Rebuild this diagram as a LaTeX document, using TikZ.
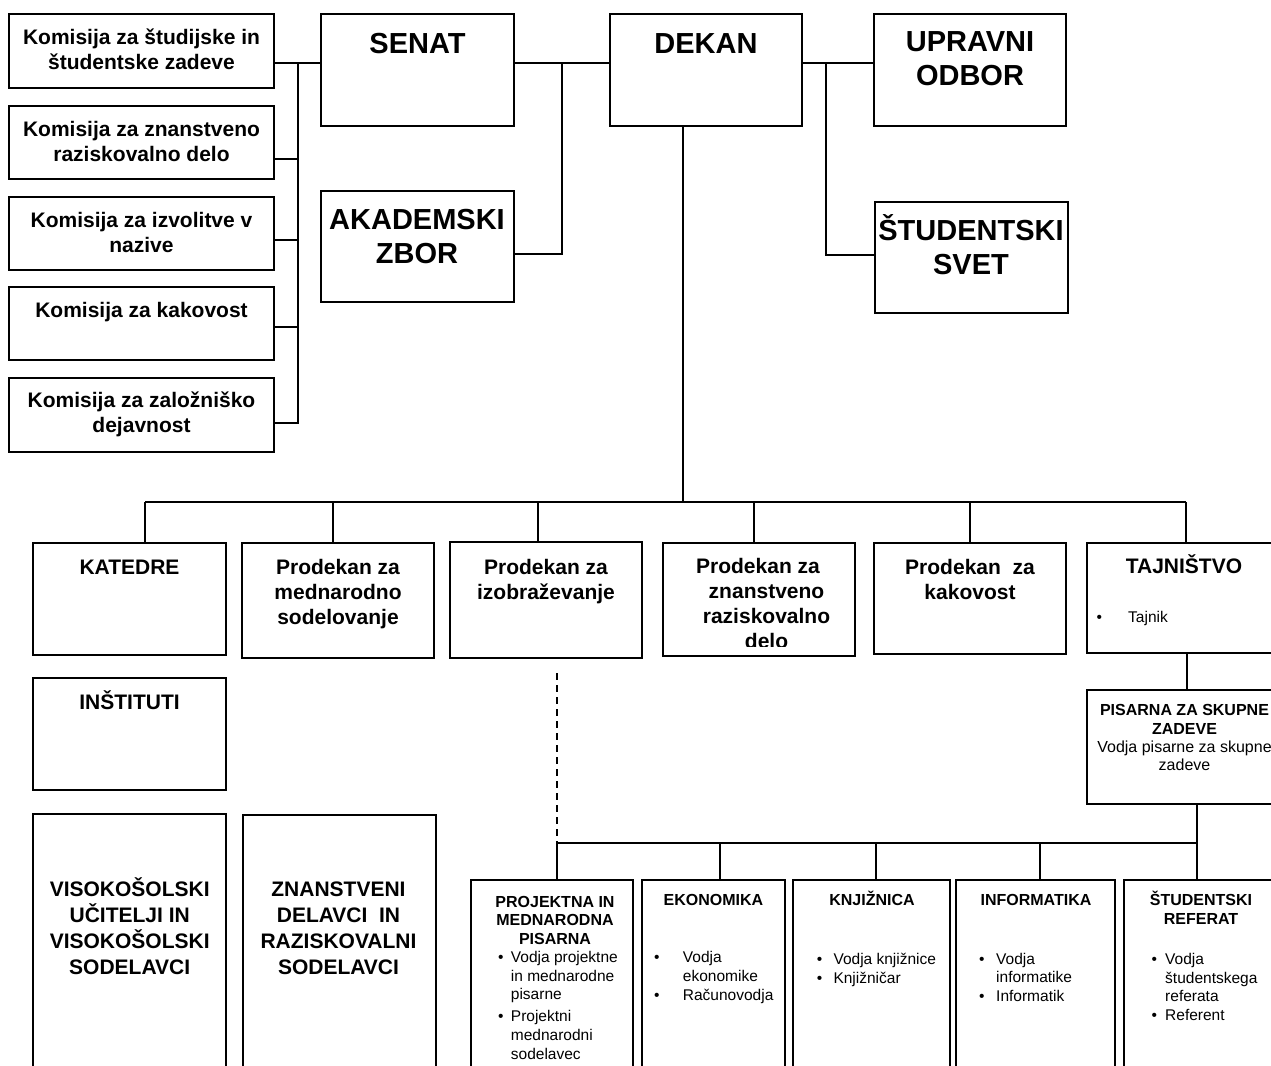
\documentclass[tikz,border=0pt]{standalone}
\usepackage{fontspec}
\setmainfont{Liberation Sans}
\usetikzlibrary{fit}
\newcommand{\mlines}[1]{\begin{tabular}[t]{@{}c@{}}#1\end{tabular}}
\newcommand{\blist}[2]{\begin{tabular}[t]{@{}l@{\hspace{#1}}l@{}}#2\end{tabular}}
\begin{document}
\begin{tikzpicture}[x=1pt,y=-1pt,
  box/.style={draw, line width=1.8pt, inner sep=0pt, rectangle},
  conn/.style={line width=1.6pt},
  dconn/.style={line width=1.6pt, dash pattern=on 7pt off 5pt},
  txt/.style={inner sep=0pt, anchor=base},
  fbig/.style={font=\fontsize{29}{34}\selectfont\bfseries},
  fmid/.style={font=\fontsize{21}{25}\selectfont\bfseries},
  fvis/.style={font=\fontsize{21}{25.8}\selectfont\bfseries},
  ftit/.style={font=\fontsize{16}{18.5}\selectfont\bfseries},
  fbul/.style={font=\fontsize{15.5}{18.8}\selectfont},
  fpis/.style={font=\fontsize{16}{18.4}\selectfont}]
\useasboundingbox (0,0) rectangle (1271,1065);
\clip (0,0) rectangle (1271,1065);
\fill[white] (0,0) rectangle (1271,1065);

% ---------- boxes ----------
\node[box, fit={(9,14) (274,88)}] (k1) {};
\node[box, fit={(9,106) (274,179)}] (k2) {};
\node[box, fit={(9,197) (274,270)}] (k3) {};
\node[box, fit={(9,287) (274,360)}] (k4) {};
\node[box, fit={(9,378) (274,452)}] (k5) {};
\node[box, fit={(321,14) (514,126)}] (senat) {};
\node[box, fit={(321,191) (514,302)}] (akad) {};
\node[box, fit={(610,14) (802,126)}] (dekan) {};
\node[box, fit={(874,14) (1066,126)}] (upravni) {};
\node[box, fit={(875,202) (1068,313)}] (svet) {};
\node[box, fit={(33,543) (226,655)}] (katedre) {};
\node[box, fit={(242,543) (434,658)}] (pmed) {};
\node[box, fit={(450,542) (642,658)}] (pizo) {};
\node[box, fit={(663,543) (855,656)}] (pzn) {};
\node[box, fit={(874,543) (1066,654)}] (pkak) {};
\node[box, fit={(1087,543) (1281,653)}] (tajn) {};
\node[box, fit={(33,678) (226,790)}] (inst) {};
\node[box, fit={(33,814) (226,1090)}] (visok) {};
\node[box, fit={(243,815) (436,1090)}] (znan) {};
\node[box, fit={(1087,690) (1283,804)}] (pisarna) {};
\node[box, fit={(471,880) (633,1090)}] (proj) {};
\node[box, fit={(642,880) (785,1090)}] (ekon) {};
\node[box, fit={(793,880) (950,1090)}] (knj) {};
\node[box, fit={(956,880) (1115,1090)}] (inf) {};
\node[box, fit={(1124,880) (1279,1090)}] (stref) {};

% ---------- texts ----------
\node[txt, fmid] (k1t) at (141.5,45) {\mlines{Komisija za študijske in\\študentske zadeve}};
\node[txt, fmid] (k2t) at (141.5,136.7) {\mlines{Komisija za znanstveno\\raziskovalno delo}};
\node[txt, fmid] (k3t) at (141.5,227.7) {\mlines{Komisija za izvolitve v\\nazive}};
\node[txt, fmid] (k4t) at (141.5,317.3) {\mlines{Komisija za kakovost}};
\node[txt, fmid] (k5t) at (141.5,407) {\mlines{Komisija za založniško\\dejavnost}};

\node[txt, fbig] (senatt) at (417.5,54) {SENAT};
\node[txt, fbig] (akadt) at (417,229) {\mlines{AKADEMSKI\\ZBOR}};
\node[txt, fbig] (dekant) at (706,54) {DEKAN};
\node[txt, fbig] (upravnit) at (970,52) {\mlines{UPRAVNI\\ODBOR}};
\node[txt, fbig] (svett) at (971,240) {\mlines{ŠTUDENTSKI\\SVET}};

\node[txt, fmid] (katedret) at (129.5,574) {KATEDRE};
\node[txt, fmid] (pmedt) at (338,574) {\mlines{Prodekan za\\mednarodno\\sodelovanje}};
\node[txt, fmid] (pizot) at (546,574) {\mlines{Prodekan za\\izobraževanje}};
\begin{scope}
\clip (663,543) rectangle (855,646);
\node[txt, fmid] (pznt) at (758,573) {\mlines{Prodekan za\\\hspace{17pt}znanstveno\\\hspace{17pt}raziskovalno\\\hspace{17pt}delo}};
\end{scope}
\node[txt, fmid] (pkakt) at (970,574) {\mlines{Prodekan\ \ za\\kakovost}};
\node[txt, fmid] (tajnt) at (1184,573) {TAJNIŠTVO};
\node[txt, fbul, anchor=base west] (tajnb) at (1096.3,622) {\blist{26.3pt}{\textbullet & Tajnik}};

\node[txt, fmid] (instt) at (129.5,709.3) {INŠTITUTI};
\node[txt, fvis] (visokt) at (129.7,896.7) {\mlines{VISOKOŠOLSKI\\\smash{UČITELJI IN}\\\smash{VISOKOŠOLSKI}\\SODELAVCI}};
\node[txt, fvis] (znant) at (338.5,896.7) {\mlines{ZNANSTVENI\\DELAVCI\ \ IN\\RAZISKOVALNI\\SODELAVCI}};

\node[txt, fpis] (pisarnat) at (1184.5,715.7) {\mlines{\textbf{PISARNA ZA SKUPNE}\\\textbf{ZADEVE}\\Vodja pisarne za skupne\\zadeve}};

\node[txt, ftit] (projt) at (555,907.3) {\mlines{PROJEKTNA IN\\MEDNARODNA\\PISARNA}};
\node[txt, fbul, anchor=base west] (projb) at (498,962.3) {\blist{7.3pt}{\textbullet & Vodja projektne\\ & in mednarodne\\ & pisarne\\[3pt] \textbullet & Projektni\\ & mednarodni\\ & sodelavec}};
\node[txt, ftit] (ekont) at (713.5,905.7) {EKONOMIKA};
\node[txt, fbul, anchor=base west] (ekonb) at (654,962.7) {\blist{23.3pt}{\textbullet & Vodja\\ & ekonomike\\ \textbullet & Računovodja}};
\node[txt, ftit] (knjt) at (872,905.7) {KNJIŽNICA};
\node[txt, fbul, anchor=base west] (knjb) at (816.6,964.3) {\blist{11.3pt}{\textbullet & Vodja knjižnice\\ \textbullet & Knjižničar}};
\node[txt, ftit] (inft) at (1036,905.7) {INFORMATIKA};
\node[txt, fbul, anchor=base west] (infb) at (979,964) {\blist{11.6pt}{\textbullet & Vodja\\ & informatike\\ \textbullet & Informatik}};
\node[txt, ftit] (streft) at (1201,905.7) {\mlines{ŠTUDENTSKI\\REFERAT}};
\node[txt, fbul, anchor=base west] (strefb) at (1151.3,964.3) {\blist{8.3pt}{\textbullet & Vodja\\ & študentskega\\ & referata\\ \textbullet & Referent}};

% ---------- connectors ----------
\coordinate (j1) at (298,63);
\coordinate (j2) at (298,159);
\coordinate (j3) at (298,240);
\coordinate (j4) at (298,327);
\coordinate (j5) at (298,423);
\draw[conn] (k1.east |- j1) -- (senat.west |- j1);
\draw[conn] (j1) -- (j5) -- (k5.east |- j5);
\draw[conn] (k2.east |- j2) -- (j2);
\draw[conn] (k3.east |- j3) -- (j3);
\draw[conn] (k4.east |- j4) -- (j4);

\coordinate (ja) at (562,63);
\coordinate (ja2) at (562,254);
\draw[conn] (senat.east |- j1) -- (dekan.west |- j1);
\draw[conn] (ja) -- (ja2) -- (akad.east |- ja2);

\coordinate (js) at (826,63);
\coordinate (js2) at (826,255);
\draw[conn] (dekan.east |- js) -- (upravni.west |- js);
\draw[conn] (js) -- (js2) -- (svet.west |- js2);

\coordinate (db) at (683,502);
\draw[conn] (dekan.south -| db) -- (db);
\coordinate (m1) at (145,502);
\coordinate (m2) at (333,502);
\coordinate (m3) at (538,502);
\coordinate (m4) at (754,502);
\coordinate (m5) at (970,502);
\coordinate (m6) at (1186,502);
\draw[conn] (m1) -- (m6);
\draw[conn] (m1) -- (katedre.north -| m1);
\draw[conn] (m2) -- (pmed.north -| m2);
\draw[conn] (m3) -- (pizo.north -| m3);
\draw[conn] (m4) -- (pzn.north -| m4);
\draw[conn] (m5) -- (pkak.north -| m5);
\draw[conn] (m6) -- (tajn.north -| m6);

\coordinate (tp) at (1187,600);
\draw[conn] (tajn.south -| tp) -- (pisarna.north -| tp);

\coordinate (b1) at (557,843);
\coordinate (b2) at (720,843);
\coordinate (b3) at (876,843);
\coordinate (b4) at (1040,843);
\coordinate (b5) at (1197,843);
\coordinate (dtop) at (557,673);
\draw[dconn] (dtop) -- (b1);
\draw[conn] (pisarna.south -| b5) -- (b5) -- (stref.north -| b5);
\draw[conn] (b1) -- (b5);
\draw[conn] (b1) -- (proj.north -| b1);
\draw[conn] (b2) -- (ekon.north -| b2);
\draw[conn] (b3) -- (knj.north -| b3);
\draw[conn] (b4) -- (inf.north -| b4);
\end{tikzpicture}
\end{document}
